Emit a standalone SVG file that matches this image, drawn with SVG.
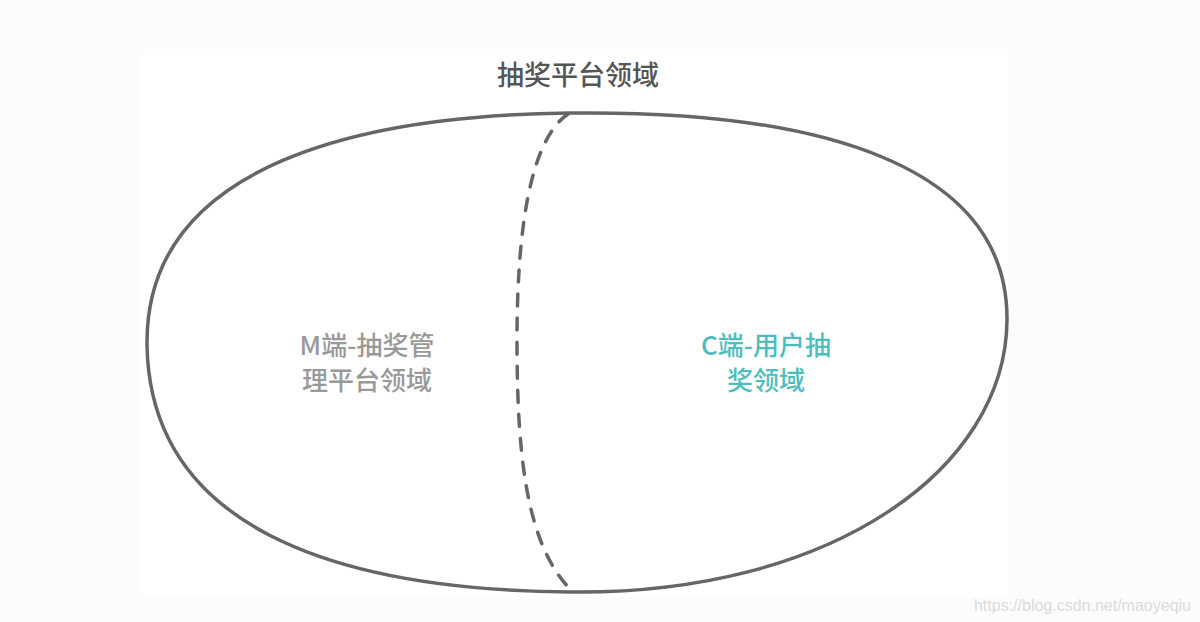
<svg xmlns="http://www.w3.org/2000/svg" width="1200" height="622" viewBox="0 0 1200 622">
<style>
.line{fill:none;stroke:#666;stroke-width:3.5;stroke-linecap:round}
.dash{stroke-dasharray:12 12}
.t{font-family:"Noto Sans CJK SC","Noto Sans",sans-serif;font-size:27px;font-weight:500;text-anchor:middle}
.s{font-size:26px}
</style>
<rect x="0" y="0" width="1200" height="622" fill="#fcfcfc"/>
<rect x="142" y="49" width="867" height="548" fill="#ffffff"/>
<g id="domain">
<path class="line" d="M570 113 C820 110 1008 165 1007 320 C1006 470 830 595 570 592 C330 590 150 525 147 345 C145 160 370 115 570 113 Z"/>
<text class="t" x="578" y="85" fill="#555">抽奖平台领域</text>
</g>
<g id="connectors">
<path class="line dash" d="M568 114 C530 140 517 230 517 340 C517 450 525 545 572 591"/>
</g>
<g id="m-domain">
<text class="t s" x="367" y="355" fill="#999">M端-抽奖管</text>
<text class="t s" x="367" y="390" fill="#999">理平台领域</text>
</g>
<g id="c-domain">
<text class="t s" x="766" y="355" fill="#4dbdbd">C端-用户抽</text>
<text class="t s" x="766" y="390" fill="#4dbdbd">奖领域</text>
</g>
<text x="1191" y="611" font-family="Liberation Sans,Arial,sans-serif" font-size="16" fill="#dadada" text-anchor="end">https://blog.csdn.net/maoyeqiu</text>
</svg>
